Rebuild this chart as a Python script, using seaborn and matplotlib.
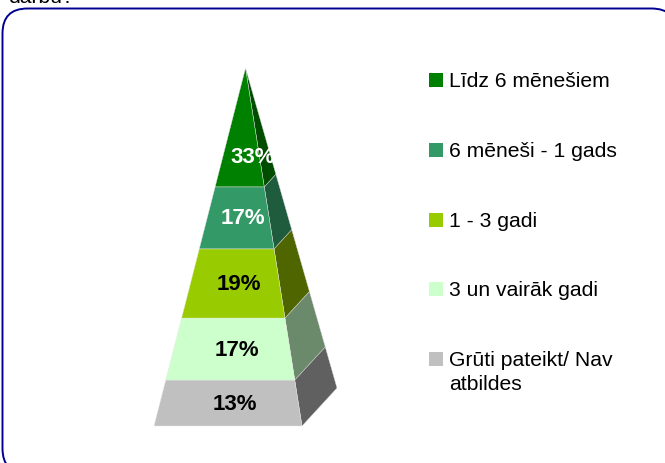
import pandas as pd
import matplotlib
matplotlib.use('Agg')
import matplotlib.pyplot as plt
from matplotlib.patches import FancyBboxPatch
import seaborn as sns

# Values (band heights follow the shares)
groups = ['Līdz 6 mēnešiem', '6 mēneši - 1 gads', '1 - 3 gadi', '3 un vairāk gadi', 'Grūti pateikt/ Nav\natbildes']
shares = [33.2, 17.3, 19.3, 17.3, 12.8]
labels = ['33%', '17%', '19%', '17%', '13%']

# Colours
front_colors = ['#008000', '#339966', '#99CC00', '#CCFFCC', '#C0C0C0']
side_colors = ['#004D00', '#1F5C3D', '#4F6600', '#6B8A6B', '#606060']
label_colors = ['white', 'white', 'black', 'black', 'black']

# Pyramid layout in pixels
apex = (245.5, 68)
base_left = (154, 426)
base_right = (302, 426)
base_back = (337, 388)
label_dx = [10, 5, 4, 5, 6]
label_dy = [30, 1, 1, 1, 1]

sns.set_theme(style='white')
plt.rcParams['font.family'] = ['Liberation Sans', 'DejaVu Sans']

fig = plt.figure(figsize=(6.65, 4.63), dpi=100)
ax = fig.add_axes([0, 0, 1, 1])
ax.set_xlim(0, 665)
ax.set_ylim(463, 0)
ax.axis('off')

# Rounded frame, runs past the right and bottom edges of the picture
frame = FancyBboxPatch((2.5, 8.5), 674, 465, boxstyle='round,pad=0,rounding_size=25',
                       fc='white', ec='#000090', lw=1.4, zorder=0)
ax.add_patch(frame)

# Cut-off text above the frame
ax.text(8, 3, 'darbu?', fontsize=15.2, color='black', ha='left', va='baseline', zorder=1)


def along(corner, t):
    return (apex[0] + (corner[0] - apex[0]) * t, apex[1] + (corner[1] - apex[1]) * t)


total = sum(shares)
t0 = 0
for i, share in enumerate(shares):
    t1 = t0 + share / total
    front = [along(base_left, t0), along(base_right, t0), along(base_right, t1), along(base_left, t1)]
    side = [along(base_right, t0), along(base_back, t0), along(base_back, t1), along(base_right, t1)]
    ax.fill(*zip(*side), fc=side_colors[i], ec='#d8d8d8', lw=0.3, zorder=2)
    ax.fill(*zip(*front), fc=front_colors[i], ec='#e8e8e8', lw=0.3, zorder=3)
    tm = (t0 + t1) / 2
    mid_x = (along(base_left, tm)[0] + along(base_right, tm)[0]) / 2
    mid_y = along(base_left, tm)[1]
    ax.text(mid_x + label_dx[i], mid_y + label_dy[i], labels[i], color=label_colors[i],
            fontsize=16, fontweight='bold', ha='center', va='center', zorder=5)
    t0 = t1

# Legend
legend_df = pd.DataFrame({
    'group': groups,
    'x': [436] * len(groups),
    'y': [80 + 69.8 * i for i in range(len(groups))],
})
sns.scatterplot(data=legend_df, x='x', y='y', hue='group', palette=front_colors, marker='s',
                s=102, linewidth=0, legend=False, ax=ax, zorder=4)
ax.set_xlim(0, 665)
ax.set_ylim(463, 0)
for row in legend_df.itertuples():
    ax.text(449, row.y - 8, row.group, fontsize=15.2, color='black', ha='left', va='top',
            linespacing=1.35, zorder=5)

fig.savefig('out.png', dpi=100)
